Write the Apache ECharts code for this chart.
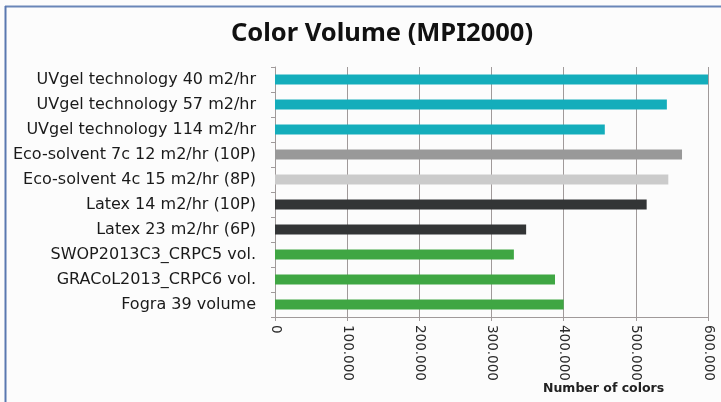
<!DOCTYPE html>
<html>
<head>
<meta charset="utf-8">
<script src="https://cdn.jsdelivr.net/npm/echarts@6/dist/echarts.min.js"></script>
<style>
html,body{margin:0;padding:0;background:#fcfcfc;}
#chart{width:721px;height:402px;}
</style>
</head>
<body>
<div id="chart"></div>
<script>
const categories = [
  "UVgel technology 40 m2/hr",
  "UVgel technology 57 m2/hr",
  "UVgel technology 114 m2/hr",
  "Eco-solvent 7c 12 m2/hr (10P)",
  "Eco-solvent 4c 15 m2/hr (8P)",
  "Latex 14 m2/hr (10P)",
  "Latex 23 m2/hr (6P)",
  "SWOP2013C3_CRPC5 vol.",
  "GRACoL2013_CRPC6 vol.",
  "Fogra 39 volume"
];
const values = [600000, 543000, 457000, 564000, 545000, 515000, 348000, 331000, 388000, 400000];
const barColors = ["#14adbb", "#14adbb", "#14adbb", "#999999", "#cbcbcb", "#333536", "#333536", "#3fa643", "#3fa643", "#3fa643"];
const xTicks = { min: 0, max: 600000, interval: 100000 };

const chart = echarts.init(document.getElementById('chart'));
chart.setOption({
  backgroundColor: '#fcfcfc',
  animation: false,
  title: {
    text: 'Color Volume (MPI2000)',
    left: 377, top: 16, textAlign: 'center',
    textStyle: { fontFamily: 'Noto Sans', fontWeight: 'bold', fontSize: 25.5, color: '#111' }
  },
  grid: { left: 275, right: 13, top: 67, bottom: 85 },
  xAxis: {
    type: 'value',
    min: xTicks.min, max: xTicks.max, interval: xTicks.interval,
    axisLine: { show: true, lineStyle: { color: '#a09a9a' } },
    axisTick: { show: true, length: 4, lineStyle: { color: '#a09a9a' } },
    splitLine: { show: true, lineStyle: { color: '#a09a9a', width: 1 } },
    axisLabel: {
      rotate: -90, margin: 8, fontSize: 13.5, fontFamily: 'DejaVu Sans', color: '#2a2a2a',
      formatter: v => v === 0 ? '0' : String(v).replace(/\B(?=(\d{3})+(?!\d))/g, '.')
    }
  },
  yAxis: {
    type: 'category', data: categories, inverse: true,
    axisLine: { show: true, lineStyle: { color: '#a09a9a' } },
    axisTick: { show: true, length: 4, lineStyle: { color: '#a09a9a' } },
    axisLabel: { fontSize: 16, fontFamily: 'DejaVu Sans', color: '#1a1a1a', margin: 19 }
  },
  series: [{
    type: 'bar',
    data: values.map((v, i) => ({ value: v, itemStyle: { color: barColors[i] } })),
    barWidth: 10
  }],
  graphic: [
    { type: 'text', left: 543, top: 382, style: { text: 'Number of colors', font: 'bold 12.5px "DejaVu Sans"', fill: '#222' } },
    { type: 'line', shape: { x1: 5, y1: 6.5, x2: 721, y2: 6.5 }, style: { stroke: '#6a86b8', lineWidth: 2 } },
    { type: 'line', shape: { x1: 5.5, y1: 6, x2: 5.5, y2: 402 }, style: { stroke: '#5a78b0', lineWidth: 2 } }
  ]
});
</script>
</body>
</html>
